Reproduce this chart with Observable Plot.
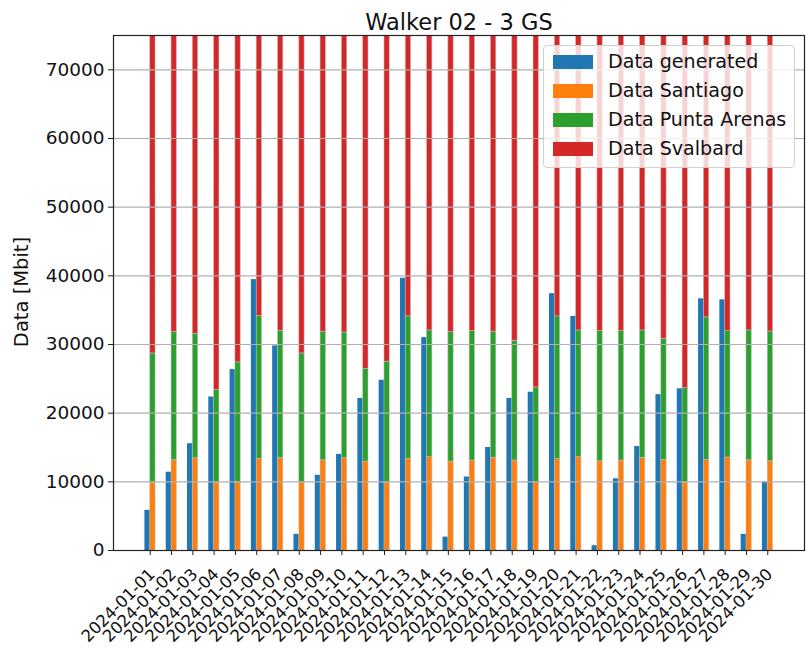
<!DOCTYPE html>
<html>
<head>
<meta charset="utf-8">
<script src="https://cdn.jsdelivr.net/npm/d3@7"></script>
<script src="https://cdn.jsdelivr.net/npm/@observablehq/plot@0.6"></script>
<style>
  html, body { margin: 0; padding: 0; background: #fff; }
  #wrap { position: relative; width: 807px; height: 649px; font-family: "DejaVu Sans", sans-serif; color: #111; }
  #ylabel {
    position: absolute; left: 21px; top: 292px; white-space: nowrap; font-size: 19.5px;
    transform: translate(-50%, -50%) rotate(-90deg);
  }
  #legend {
    position: absolute; left: 543px; top: 45px; width: 252px; height: 123px;
    background: rgba(255,255,255,0.8); border: 1px solid #d0d0d0; border-radius: 4px;
    box-sizing: border-box; font-size: 19.1px;
  }
  #legend .item { position: absolute; left: 9px; height: 14px; display: flex; align-items: center; }
  #legend .sw { width: 40px; height: 14px; margin-right: 15px; flex: none; }
  #legend .lab { white-space: nowrap; line-height: 14px; }
</style>
</head>
<body>
<div id="wrap"><div id="chart"></div><div id="ylabel"></div><div id="legend"></div></div>
<script>
// Daily downlink budget for Walker 02 with three ground stations
const title = "Walker 02 - 3 GS";
const yLabel = "Data [Mbit]";
const dates = [
  "2024-01-01","2024-01-02","2024-01-03","2024-01-04","2024-01-05","2024-01-06",
  "2024-01-07","2024-01-08","2024-01-09","2024-01-10","2024-01-11","2024-01-12",
  "2024-01-13","2024-01-14","2024-01-15","2024-01-16","2024-01-17","2024-01-18",
  "2024-01-19","2024-01-20","2024-01-21","2024-01-22","2024-01-23","2024-01-24",
  "2024-01-25","2024-01-26","2024-01-27","2024-01-28","2024-01-29","2024-01-30"
];
const generated = [
  5850, 11400, 15550, 22350, 26350, 39450, 29800, 2350, 10950, 14000,
  22150, 24800, 39650, 31000, 1950, 10700, 15000, 22150, 23050, 37400,
  34100, 700, 10450, 15150, 22700, 23550, 36650, 36500, 2350, 10000
];
const santiago = [
  9900, 13150, 13450, 9900, 9900, 13350, 13500, 9900, 13150, 13450,
  12950, 9900, 13350, 13600, 12950, 13100, 13500, 13100, 9900, 13300,
  13600, 13000, 13100, 13500, 13200, 9900, 13200, 13550, 13150, 13000
];
const puntaArenas = [
  18800, 18700, 18100, 13450, 17500, 20800, 18500, 18800, 18700, 18300,
  13500, 17600, 20750, 18450, 18850, 18850, 18350, 17450, 13850, 20800,
  18450, 18950, 18850, 18550, 17650, 13750, 20750, 18400, 18900, 18900
];
const svalbard = [
  61000, 58000, 58500, 66000, 62000, 56000, 58000, 61000, 58000, 58500,
  63000, 62000, 56000, 58000, 58000, 58000, 58500, 59500, 65500, 56000,
  58000, 58000, 58000, 58000, 59000, 65500, 56000, 58000, 58000, 58000
];
const seriesNames = ["Data generated", "Data Santiago", "Data Punta Arenas", "Data Svalbard"];
const colors = ["#1f77b4", "#ff7f0e", "#2ca02c", "#d62728"];
const yTicks = [0, 10000, 20000, 30000, 40000, 50000, 60000, 70000];
const barWidth = 0.25;

// Generated data sits left of each date tick; the ground-station stack sits right of it
const genRows = dates.map((d, i) => ({i, series: seriesNames[0], y1: 0, y2: generated[i]}));
const stackRows = [];
dates.forEach((d, i) => {
  let base = 0;
  [santiago, puntaArenas, svalbard].forEach((arr, k) => {
    stackRows.push({i, series: seriesNames[k + 1], y1: base, y2: base + arr[i]});
    base += arr[i];
  });
});

const chart = Plot.plot({
  width: 807,
  height: 649,
  marginLeft: 113,
  marginRight: 3,
  marginTop: 35,
  marginBottom: 99,
  style: {fontFamily: "DejaVu Sans, sans-serif", background: "white", color: "#111"},
  x: {type: "linear", domain: [-1.725, 30.725], axis: null},
  y: {domain: [0, 75000], axis: null},
  color: {domain: seriesNames, range: colors},
  marks: [
    Plot.rectY(genRows, {x1: d => d.i - barWidth, x2: d => d.i, y1: "y1", y2: "y2", fill: "series", clip: true}),
    Plot.rectY(stackRows, {x1: d => d.i, x2: d => d.i + barWidth, y1: "y1", y2: "y2", fill: "series",
      stroke: "#bdbdbd", strokeWidth: 0.8, strokeOpacity: 0.7, clip: true}),
    Plot.gridY(yTicks, {stroke: "#b0b0b0", strokeOpacity: 1, strokeWidth: 1.2}),
    Plot.axisY(yTicks, {tickSize: 5, tickPadding: 4, fontSize: 18.5, label: null, tickFormat: d => String(d), stroke: "#222"}),
    Plot.axisX(d3.range(dates.length), {tickSize: 5, tickFormat: () => "", label: null, stroke: "#222"}),
    Plot.text(d3.range(dates.length), {x: d => d, text: d => dates[d], frameAnchor: "bottom",
      rotate: -45, textAnchor: "end", lineAnchor: "middle", dx: 2, dy: 21, fontSize: 16.5, fill: "#111"}),
    Plot.text([title], {frameAnchor: "top", dy: -21, fontSize: 22.5, fill: "#111"}),
    Plot.frame({stroke: "#222", strokeWidth: 1.2})
  ]
});
document.getElementById("chart").appendChild(chart);
document.getElementById("ylabel").textContent = yLabel;

// Legend box in the upper right of the plot area
const legend = d3.select("#legend");
seriesNames.forEach((name, k) => {
  const item = legend.append("div").attr("class", "item").style("top", (9 + k * 29) + "px");
  item.append("div").attr("class", "sw").style("background", colors[k]);
  item.append("div").attr("class", "lab").text(name);
});
</script>
</body>
</html>
